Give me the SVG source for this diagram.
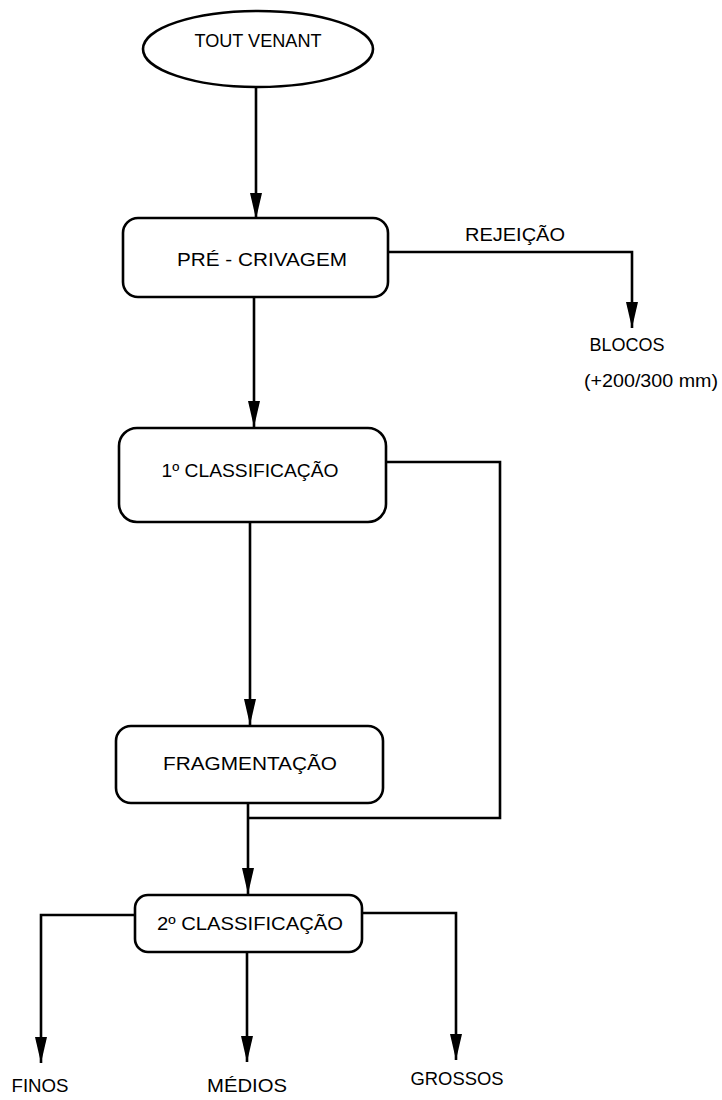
<svg xmlns="http://www.w3.org/2000/svg" width="722" height="1100" viewBox="0 0 722 1100">
<style>
.n{fill:#fff;stroke:#000;stroke-width:2.6}
.c{fill:none;stroke:#000;stroke-width:2.6}
.t{font-family:"Liberation Sans","DejaVu Sans",sans-serif;font-size:17.5px;fill:#000;text-anchor:middle}
</style>
<defs>
<marker id="ah" markerUnits="userSpaceOnUse" markerWidth="26" markerHeight="12" viewBox="0 0 26 12" refX="26" refY="6" orient="auto">
<path d="M0,0 L26,6 L0,12 Z" fill="#000"/>
</marker>
</defs>
<rect width="722" height="1100" fill="#fff"/>
<g id="connectors">
<path class="c" d="M256,87 V219" marker-end="url(#ah)"/>
<path class="c" d="M388,252 H632 V328" marker-end="url(#ah)"/>
<path class="c" d="M254,297 V427" marker-end="url(#ah)"/>
<path class="c" d="M386,462 H500 V818 H248"/>
<path class="c" d="M250,522 V725" marker-end="url(#ah)"/>
<path class="c" d="M248,803 V894" marker-end="url(#ah)"/>
<path class="c" d="M135,915 H41 V1063" marker-end="url(#ah)"/>
<path class="c" d="M247,952 V1062" marker-end="url(#ah)"/>
<path class="c" d="M362,913 H456 V1060" marker-end="url(#ah)"/>
</g>
<g id="tout-venant">
<ellipse class="n" cx="258" cy="49" rx="115" ry="38"/>
<text class="t" x="258" y="47" textLength="127" lengthAdjust="spacingAndGlyphs">TOUT VENANT</text>
</g>
<g id="pre-crivagem">
<rect class="n" x="123" y="218" width="265" height="79" rx="15"/>
<text class="t" x="262" y="266" textLength="170" lengthAdjust="spacingAndGlyphs">PRÉ - CRIVAGEM</text>
</g>
<g id="rejeicao-label">
<text class="t" x="515" y="241" textLength="100" lengthAdjust="spacingAndGlyphs">REJEIÇÃO</text>
</g>
<g id="blocos">
<text class="t" x="627" y="351" textLength="75" lengthAdjust="spacingAndGlyphs">BLOCOS</text>
<text class="t" x="651" y="387" textLength="134" lengthAdjust="spacingAndGlyphs">(+200/300  mm)</text>
</g>
<g id="classificacao-1">
<rect class="n" x="119" y="428" width="267" height="94" rx="18"/>
<text class="t" x="250" y="477" textLength="177" lengthAdjust="spacingAndGlyphs">1º CLASSIFICAÇÃO</text>
</g>
<g id="fragmentacao">
<rect class="n" x="116" y="726" width="267" height="77" rx="15"/>
<text class="t" x="250" y="770" textLength="174" lengthAdjust="spacingAndGlyphs">FRAGMENTAÇÃO</text>
</g>
<g id="classificacao-2">
<rect class="n" x="135" y="895" width="227" height="57" rx="13"/>
<text class="t" x="250" y="930" textLength="186" lengthAdjust="spacingAndGlyphs">2º CLASSIFICAÇÃO</text>
</g>
<g id="finos">
<text class="t" x="40" y="1092" textLength="57" lengthAdjust="spacingAndGlyphs">FINOS</text>
</g>
<g id="medios">
<text class="t" x="247" y="1092" textLength="80" lengthAdjust="spacingAndGlyphs">MÉDIOS</text>
</g>
<g id="grossos">
<text class="t" x="457" y="1085" textLength="93" lengthAdjust="spacingAndGlyphs">GROSSOS</text>
</g>
</svg>
